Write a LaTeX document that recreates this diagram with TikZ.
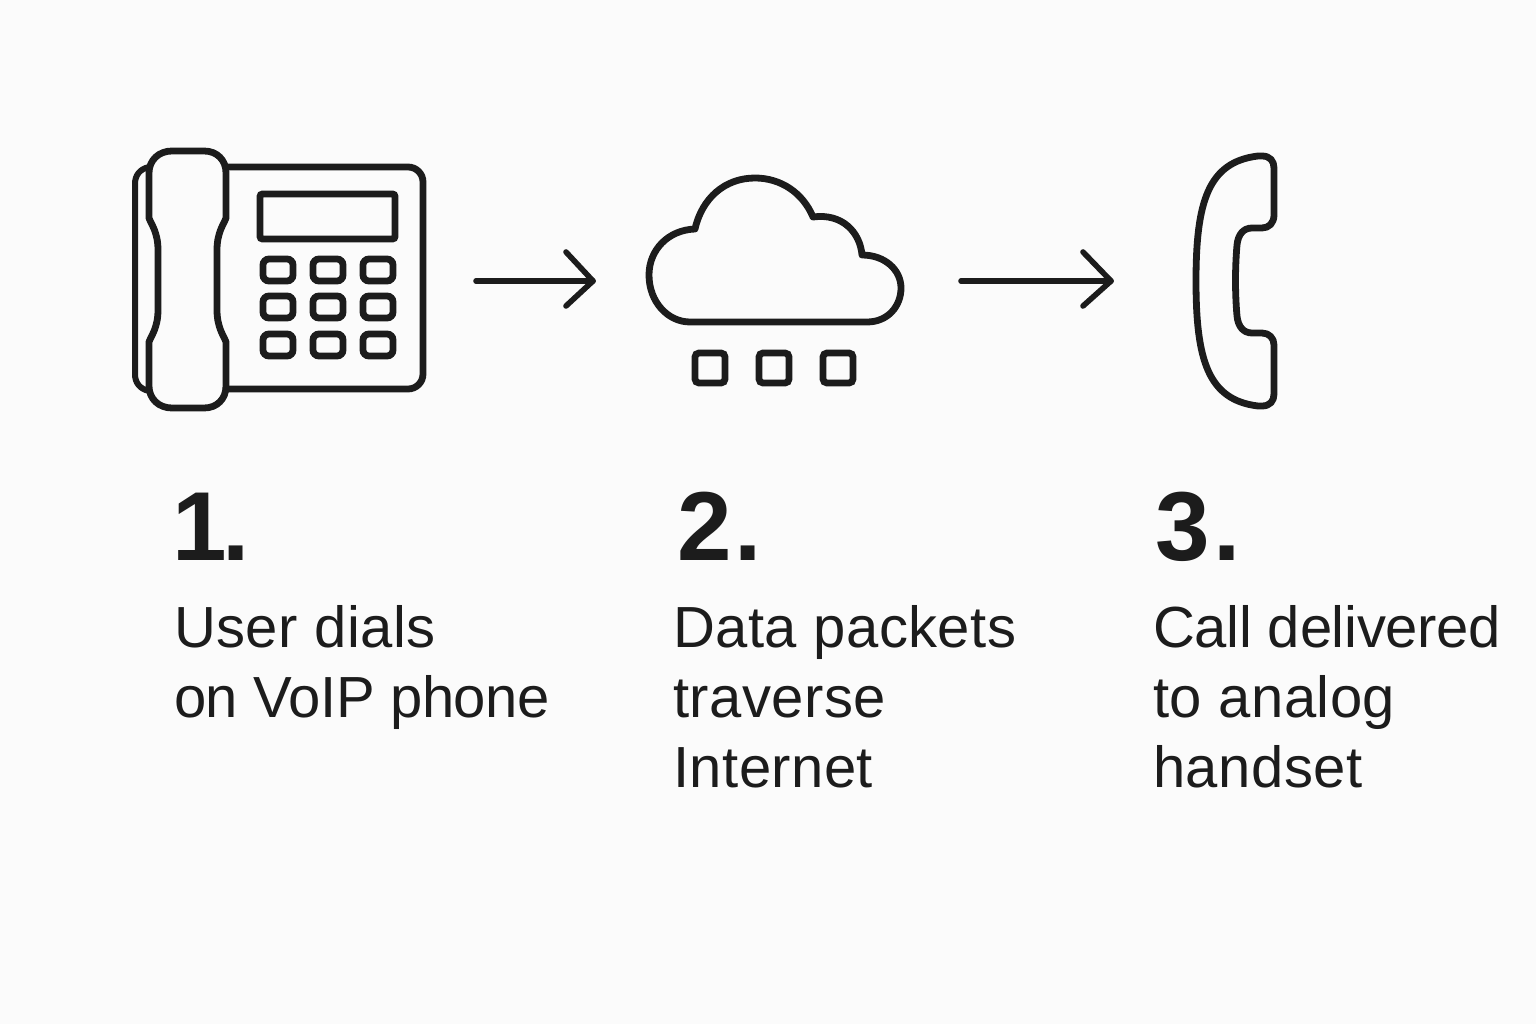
\documentclass[tikz,border=0pt]{standalone}
\usepackage{fontspec}
\setmainfont{Liberation Sans}
\newfontfamily\bodyfont[LetterSpace=0.8]{Liberation Sans}
\newfontfamily\bodytight[LetterSpace=-0.9]{Liberation Sans}
\newfontfamily\bodysnug[LetterSpace=-0.5]{Liberation Sans}
\definecolor{ink}{HTML}{1C1C1C}
\definecolor{paper}{HTML}{FBFBFB}
\tikzset{
  icon/.style={draw=ink,line width=6.8pt,line join=round,line cap=round},
  thinicon/.style={draw=ink,line width=6pt,line join=round,line cap=round},
  key/.style={draw=ink,line width=6.8pt,rounded corners=6pt,minimum width=30pt,minimum height=22pt,inner sep=0pt},
  packet/.style={draw=ink,line width=6.8pt,rounded corners=4pt,minimum width=30pt,minimum height=30pt,inner sep=0pt},
  bound/.style={inner sep=0pt,outer sep=0pt},
  flow/.style={draw=ink,line width=5.6pt,line cap=round,line join=round},
  num/.style={anchor=base west,inner sep=0pt,text=ink,font=\fontsize{98}{98}\selectfont\bfseries},
  body/.style={anchor=north west,inner sep=0pt,text=ink,align=left,font=\fontsize{58}{70}\selectfont\bodyfont}
}
\begin{document}
\begin{tikzpicture}[x=1pt,y=-1pt]
\useasboundingbox (0,0) rectangle (1536,1024);
\fill[paper] (0,0) rectangle (1536,1024);
% bounds of the three icons
\node[bound,minimum width=294pt,minimum height=262pt] (phone) at (280,281) {};
\node[bound,minimum width=257pt,minimum height=211pt] (cloud) at (774.5,281) {};
\node[bound,minimum width=84pt,minimum height=256pt] (handset) at (1235,281) {};
% desk phone
\path[icon] (226,167) -- (408,167) arc[start angle=-90,end angle=0,radius=15] -- (423,374) arc[start angle=0,end angle=90,radius=15] -- (226,389);
\path[thinicon] (149,167) .. controls (140,169) and (135,175) .. (135,184) -- (135,374) .. controls (135,383) and (140,389) .. (149,391);
\path[icon] (172,151) -- (204,151) .. controls (217,151) and (226,160) .. (226,173) -- (226,218)
  .. controls (224,224) and (217,232) .. (217,250) -- (217,310) .. controls (217,328) and (224,336) .. (226,342)
  -- (226,386) .. controls (226,399) and (217,408) .. (204,408) -- (172,408)
  .. controls (159,408) and (149,399) .. (149,386) -- (149,342)
  .. controls (151,336) and (158,328) .. (158,310) -- (158,250) .. controls (158,232) and (151,224) .. (149,218)
  -- (149,173) .. controls (149,160) and (159,151) .. (172,151) -- cycle;
\node[draw=ink,line width=6.8pt,rounded corners=2.5pt,minimum width=135pt,minimum height=45pt,inner sep=0pt] (display) at (327.5,216.5) {};
\foreach \r/\y in {a/270,b/307,c/345}{
  \foreach \c/\x in {1/278,2/328,3/378}{
    \node[key] (k\r\c) at (\x,\y) {};
  }
}
% cloud
\path[icon] (690,322) -- (867,322) .. controls (888,322) and (901,306) .. (901,288)
  .. controls (901,270) and (885,255) .. (862,255)
  .. controls (860,232) and (842,213) .. (813,217)
  .. controls (803,193) and (781,178) .. (755,178)
  .. controls (725,178) and (702,198) .. (695,229)
  .. controls (668,230) and (649,250) .. (649,275)
  .. controls (649,302) and (668,322) .. (690,322) -- cycle;
\node[packet] (p1) at (710,368) {};
\node[packet] (p2) at (774,368) {};
\node[packet] (p3) at (838,368) {};
% handset
\path[icon] (1258,156) -- (1262,156) .. controls (1270,156) and (1274,161) .. (1274,168) -- (1274,215)
  .. controls (1274,223) and (1269,228) .. (1262,228) -- (1252,228)
  .. controls (1243,228) and (1238,235) .. (1237,245)
  .. controls (1235,268) and (1235,293) .. (1237,316)
  .. controls (1238,326) and (1243,333) .. (1252,333) -- (1262,333)
  .. controls (1269,333) and (1274,338) .. (1274,345) -- (1274,394)
  .. controls (1274,401) and (1270,406) .. (1262,406) -- (1258,406)
  .. controls (1208,400) and (1196,360) .. (1196,281)
  .. controls (1196,202) and (1208,162) .. (1258,156) -- cycle;
% arrows
\path[flow] ([xshift=49pt]phone.east) -- ([xshift=-53pt]cloud.west);
\path[flow] (566,252) -- ([xshift=-53pt]cloud.west) -- (566,306);
\path[flow] ([xshift=58pt]cloud.east) -- ([xshift=-82pt]handset.west);
\path[flow] (1083,252) -- ([xshift=-82pt]handset.west) -- (1083,306);
% text
\node[num] (n1) at (172,560) {1\kern-4pt.};
\node[num] (n2) at (677,560) {2\kern3pt.};
\node[num] (n3) at (1155,560) {3\kern4pt.};
\node[body] (t1) at (174,605) {User dials\\{\bodytight on VoIP phone}};
\node[body] (t2) at (673,605) {Data packets\\traverse\\Internet};
\node[body] (t3) at (1153,605) {{\bodysnug Call delivered}\\to analog\\handset};
\end{tikzpicture}
\end{document}
